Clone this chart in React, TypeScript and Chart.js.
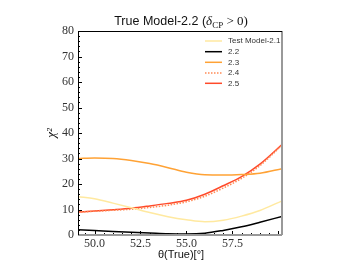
import React, { useEffect, useRef } from "react";
import { Chart, registerables } from "chart.js";
Chart.register(...registerables);

const thetas = [49.1, 50, 51, 52, 53, 54, 55, 56, 57, 58, 59, 60.2];
const test21 = [15, 14.2, 12.5, 10.7, 8.8, 7.2, 6.0, 5.2, 5.8, 7.4, 9.6, 13.4];
const m22 = [2.1, 1.8, 1.4, 1.1, 0.8, 0.5, 0.4, 0.7, 1.8, 3.2, 5.0, 7.3];
const m23 = [30, 30.2, 30, 29.2, 28, 26.4, 24.6, 23.6, 23.5, 23.7, 24.2, 26];
const m24 = [9, 9.3, 9.7, 10.1, 10.8, 11.7, 13.0, 15.2, 18.4, 22.2, 27.2, 35.2];
const m25 = [9, 9.4, 9.9, 10.5, 11.4, 12.4, 13.6, 16.0, 19.3, 22.9, 27.8, 35.5];
const seriesLabels = ["Test Model-2.1", "2.2", "2.3", "2.4", "2.5"];
const seriesColors = ["#ffe9a0", "#000000", "#ffa235", "#ff8a55", "#ff4a2a"];
const xTicks = [50, 52.5, 55, 57.5];
const yTicks = [0, 10, 20, 30, 40, 50, 60, 70, 80];

const framePlugin = {
  id: "frame",
  afterDatasetsDraw(chart: any) {
    const ctx = chart.ctx as CanvasRenderingContext2D;
    const { left, right, top, bottom } = chart.chartArea;
    const xs = chart.scales.x;
    const ys = chart.scales.y;
    ctx.save();
    ctx.strokeStyle = "#000";
    ctx.lineWidth = 1;
    for (let v = 0; v <= 80; v += 2) {
      const y = Math.round(ys.getPixelForValue(v)) + 0.5;
      const len = v % 10 === 0 ? 4 : 2;
      ctx.beginPath();
      ctx.moveTo(left, y);
      ctx.lineTo(left + len, y);
      ctx.stroke();
    }
    for (let v = 49.5; v <= 60.2; v += 0.5) {
      const x = Math.round(xs.getPixelForValue(v)) + 0.5;
      const major = Math.abs((v - 50) / 2.5 - Math.round((v - 50) / 2.5)) < 1e-6;
      const len = major ? 4 : 2;
      ctx.beginPath();
      ctx.moveTo(x, bottom);
      ctx.lineTo(x, bottom - len);
      ctx.stroke();
    }
    ctx.strokeStyle = "#999";
    ctx.lineWidth = 2;
    ctx.beginPath();
    ctx.moveTo(left, bottom);
    ctx.lineTo(right, bottom);
    ctx.moveTo(right, top);
    ctx.lineTo(right, bottom);
    ctx.stroke();
    ctx.strokeStyle = "#000";
    ctx.lineWidth = 1;
    ctx.beginPath();
    ctx.moveTo(left + 0.5, top);
    ctx.lineTo(left + 0.5, bottom);
    ctx.moveTo(left, top + 0.5);
    ctx.lineTo(right, top + 0.5);
    ctx.stroke();

    ctx.font = "8px 'Liberation Sans', sans-serif";
    ctx.textBaseline = "middle";
    ctx.textAlign = "left";
    const rows = [41, 51.7, 62.3, 73, 83.3];
    seriesLabels.forEach((lab, i) => {
      const y = rows[i];
      ctx.strokeStyle = seriesColors[i];
      ctx.lineWidth = 1.5;
      ctx.setLineDash(i === 3 ? [1.5, 1.5] : []);
      ctx.beginPath();
      ctx.moveTo(205, y);
      ctx.lineTo(222, y);
      ctx.stroke();
      ctx.setLineDash([]);
      ctx.fillStyle = "#333";
      ctx.fillText(lab, 228, y);
    });

    const parts: [string, string, number][] = [
      ["True Model-2.2 (", "12.5px 'Liberation Sans', sans-serif", 0],
      ["δ", "italic 13px 'Liberation Serif', serif", 0],
      ["CP", "9px 'Liberation Serif', serif", 3],
      [" > 0)", "13px 'Liberation Serif', serif", 0],
    ];
    let total = 0;
    parts.forEach(([t, f]) => {
      ctx.font = f;
      total += ctx.measureText(t).width;
    });
    let x = 181 - total / 2;
    ctx.fillStyle = "#111";
    ctx.textBaseline = "alphabetic";
    parts.forEach(([t, f, dy]) => {
      ctx.font = f;
      ctx.fillText(t, x, 25 + dy);
      x += ctx.measureText(t).width;
    });

    ctx.font = "11px 'Liberation Sans', sans-serif";
    ctx.textAlign = "center";
    ctx.textBaseline = "middle";
    ctx.fillText("θ(True)[°]", 181, 255);
    ctx.save();
    ctx.translate(52, 133);
    ctx.rotate(-Math.PI / 2);
    ctx.font = "italic 13px 'Liberation Serif', serif";
    ctx.fillText("χ²", 0, 0);
    ctx.restore();
    ctx.restore();
  },
};

export default function App() {
  const ref = useRef<HTMLCanvasElement>(null);
  useEffect(() => {
    const mk = (arr: number[]) => thetas.map((x, i) => ({ x, y: arr[i] }));
    const all = [test21, m22, m23, m24, m25];
    const tickFont = { family: "'Liberation Serif', serif", size: 12 };
    const chart = new Chart(ref.current!, {
      type: "line",
      data: {
        datasets: all.map((arr, i) => ({
          label: seriesLabels[i],
          data: mk(arr),
          borderColor: seriesColors[i],
          borderWidth: 1.5,
          borderDash: i === 3 ? [1.5, 1.5] : [],
          pointRadius: 0,
          fill: false,
          cubicInterpolationMode: "monotone" as const,
        })),
      },
      options: {
        animation: false,
        responsive: false,
        layout: { padding: { top: 31, right: 70, left: 0, bottom: 0 } },
        plugins: {
          legend: { display: false },
          tooltip: { enabled: false },
          title: { display: false },
        },
        scales: {
          x: {
            type: "linear",
            min: 49.1,
            max: 60.2,
            grid: { display: false, drawTicks: false },
            border: { display: false },
            afterBuildTicks: (s: any) => {
              s.ticks = xTicks.map((v) => ({ value: v }));
            },
            afterFit: (s: any) => {
              s.height = 29;
            },
            ticks: {
              autoSkip: false,
              maxRotation: 0,
              padding: 2,
              color: "#333",
              font: tickFont,
              callback: (v: any) => Number(v).toFixed(1),
            },
          },
          y: {
            min: 0,
            max: 80,
            grid: { display: false, drawTicks: false },
            border: { display: false },
            afterBuildTicks: (s: any) => {
              s.ticks = yTicks.map((v) => ({ value: v }));
            },
            afterFit: (s: any) => {
              s.width = 78;
            },
            ticks: {
              padding: 4,
              color: "#333",
              font: tickFont,
            },
          },
        },
      },
      plugins: [framePlugin],
    });
    return () => chart.destroy();
  }, []);
  return (
    <div style={{ position: "fixed", left: 0, top: 0, width: 352, height: 264, background: "#fff" }}>
      <canvas ref={ref} width={352} height={264} style={{ display: "block" }} />
    </div>
  );
}
